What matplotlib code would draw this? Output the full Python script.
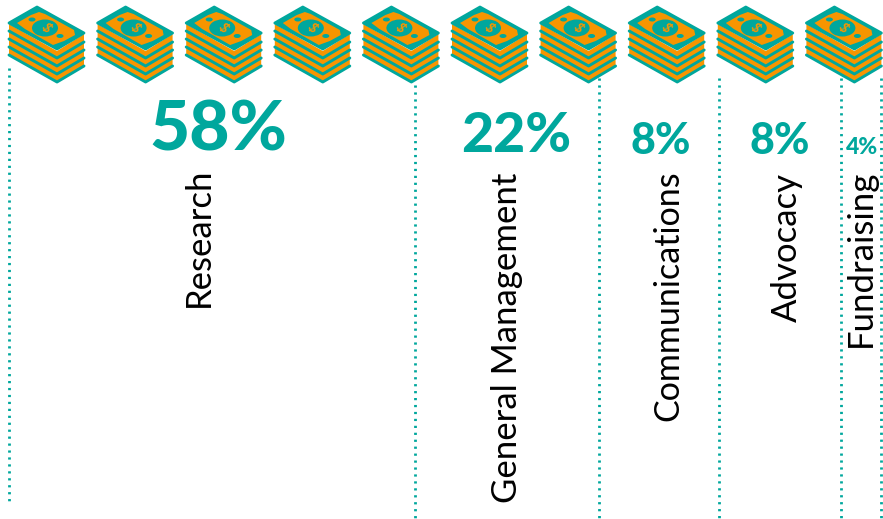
import matplotlib
matplotlib.use('Agg')
import matplotlib.pyplot as plt
from matplotlib.patches import Polygon, Ellipse

categories = ['Research', 'General Management', 'Communications', 'Advocacy', 'Fundraising']
shares = [58, 22, 8, 8, 4]

TEAL = '#00a79d'
ORANGE = '#f79500'

# layout, in pixels of the 883x519 picture
dividers = [(9, 68, 504), (415, 85, 518), (599, 78, 518), (719, 78, 518), (841, 78, 518), (881, 78, 518)]
pct_x = [218, 516, 661, 780, 862]
pct_y = [131, 136, 141, 141, 147]
pct_size = [50, 40, 31, 31, 16.5]
label_x = [199, 507, 668, 787, 861]
label_y = [237, 338, 296, 247, 258]
label_size = [25, 25, 24.5, 25, 25]
icon_x = [8, 96.6, 185.2, 273.8, 362.4, 451, 539.6, 628.2, 716.8, 805.4]

plt.rcParams['font.family'] = ['Lato', 'DejaVu Sans']
fig = plt.figure(figsize=(8.83, 5.19), dpi=100)
ax = fig.add_axes([0, 0, 1, 1])
ax.set_xlim(0, 883)
ax.set_ylim(519, 0)
ax.axis('off')


def money_stack(x0):
    def pts(lst, dy=0):
        return [(x0 + px, py + dy) for px, py in lst]
    # orange body under the bills
    ax.add_patch(Polygon(pts([(1, 24), (49, 51), (76, 34), (76, 66), (49, 82), (1, 55)]),
                         fc=ORANGE, ec='none', zorder=2))
    # edges of the lower bills
    for dy in [8, 16, 24, 32]:
        xs, ys = zip(*pts([(1, 23), (49, 50), (76, 34)], dy))
        ax.plot(xs, ys, color=TEAL, lw=2.1, solid_capstyle='round', solid_joinstyle='round', zorder=3)
    # top bill
    ax.add_patch(Polygon(pts([(1, 23), (29, 7), (76, 33), (49, 49)]), fc=TEAL, ec=TEAL, lw=2.0,
                         joinstyle='round', zorder=4))
    ax.add_patch(Polygon(pts([(9, 23), (23, 15), (31, 12), (37, 14), (66, 30), (67, 35), (56, 41),
                              (45, 45), (17, 29)]), fc=ORANGE, ec='none', zorder=5))
    ax.add_patch(Ellipse((x0 + 37, 28), 26, 17, fc=TEAL, ec='none', zorder=6))
    ax.add_patch(Ellipse((x0 + 24, 19.5), 7, 4, fc=TEAL, ec='none', zorder=6))
    ax.add_patch(Ellipse((x0 + 52, 36), 7, 4, fc=TEAL, ec='none', zorder=6))
    ax.text(x0 + 38, 28, '$', color=ORANGE, fontsize=10, fontweight='bold', ha='center', va='center',
            rotation=-50, zorder=7)


for x0 in icon_x:
    money_stack(x0)

for x, y0, y1 in dividers:
    ax.plot([x, x], [y0, y1], color=TEAL, lw=2.0, ls=(0, (0.8, 1.7)), zorder=1)

for i, (cat, val) in enumerate(zip(categories, shares)):
    ax.text(pct_x[i], pct_y[i], f'{val}%', color=TEAL, fontsize=pct_size[i], fontweight='black',
            ha='center', va='center')
    ax.text(label_x[i], label_y[i], cat, color='black', fontsize=label_size[i], rotation=90,
            ha='center', va='center')

fig.savefig('out.png', dpi=100)
